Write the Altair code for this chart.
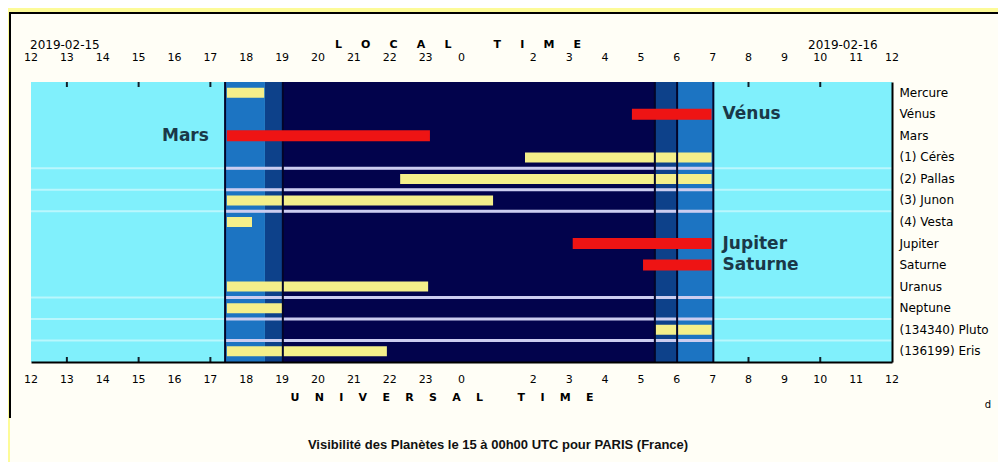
import altair as alt
import pandas as pd

# ---------------- data ----------------
rows = ["Mercure", "Vénus", "Mars", "(1) Cérès", "(2) Pallas", "(3) Junon", "(4) Vesta",
        "Jupiter", "Saturne", "Uranus", "Neptune", "(134340) Pluto", "(136199) Eris"]
# visibility windows in UT hours (12 = noon of the 15th, 36 = noon of the 16th)
vis_start = [17.46, 28.75, 17.46, 25.77, 22.29, 17.46, 17.46, 27.10, 29.06, 17.46, 17.46, 29.40, 17.46]
vis_end = [18.50, 30.97, 23.12, 30.97, 30.97, 24.88, 18.16, 30.97, 30.97, 23.07, 19.02, 30.97, 21.92]
naked_eye = [False, True, True, False, False, False, False, True, True, False, False, False, False]

evening_labels = ["Mars"]
morning_labels = ["Vénus", "Jupiter", "Saturne"]

separator_rows = ["(2) Pallas", "(3) Junon", "(4) Vesta", "Neptune", "(134340) Pluto", "(136199) Eris"]

# sky: day span, twilight / night bands (UT hours)
day_span = [12, 36]
band_start = [17.41, 18.52, 19.02, 29.39, 30.01]
band_end = [18.52, 19.02, 29.39, 30.01, 31.02]
band_color = ["#1c74c2", "#0d418a", "#02034c", "#0d418a", "#1c74c2"]
boundaries = [17.41, 19.02, 29.39, 30.01, 31.02]
night_span = [17.41, 31.02]

hours = list(range(12, 37))
hour_labels = ["12", "13", "14", "15", "16", "17", "18", "19", "20", "21", "22", "23",
               "0", "", "2", "3", "4", "5", "6", "7", "8", "9", "10", "11", "12"]
tick_hours = [13, 15, 17, 32, 34]

date_left = "2019-02-15"
date_right = "2019-02-16"
top_title = "LOCAL TIME"
bottom_title = "UNIVERSAL TIME"
main_title = "Visibilité des Planètes le 15 à 00h00 UTC pour PARIS (France)"

# ---------------- styling ----------------
W, H = 861, 280
CYAN = "#80f0fc"
FRAME = "#fdfb98"
PANEL = "#fffef6"
RED = "#ee1414"
YELLOW = "#f4ef8a"
FONT = "DejaVu Sans"


def spaced(s, gap=4):
    g = "\u00a0" * gap
    words = s.split(" ")
    return (g * 2 + "\u00a0").join(g.join(list(w)) for w in words)


x_scale = alt.Scale(domain=[12, 36], nice=False, zero=False)
y_scale = alt.Scale(domain=rows, paddingInner=0, paddingOuter=0)
x_axis = alt.Axis(labels=False, ticks=False, grid=False, title=None,
                  domainColor="black", domainWidth=2, zindex=1)
y_axis = alt.Axis(orient="right", title=None, ticks=False, grid=False,
                  labelFontSize=12, labelColor="black", labelPadding=7, labelFont=FONT,
                  domainColor="black", domainWidth=2, zindex=1)

bars_df = pd.DataFrame({
    "row": rows,
    "start": vis_start,
    "end": vis_end,
    "naked": naked_eye,
})
yellow_df = bars_df[~bars_df["naked"]]
red_df = bars_df[bars_df["naked"]]
day_df = pd.DataFrame({"start": [day_span[0]], "end": [day_span[1]]})
bands_df = pd.DataFrame({"start": band_start, "end": band_end, "color": band_color})
sep_df = pd.DataFrame({"row": separator_rows, "x0": night_span[0], "x1": night_span[1]})
bound_df = pd.DataFrame({"h": boundaries})
hours_df = pd.DataFrame({"h": hours, "label": hour_labels})
ticks_df = pd.DataFrame({"h": tick_hours})
eve_df = bars_df[bars_df["row"].isin(evening_labels)]
morn_df = bars_df[bars_df["row"].isin(morning_labels)]
one = pd.DataFrame({"k": [0]})

X = lambda f: alt.X(f, type="quantitative", scale=x_scale, axis=x_axis)
Y = lambda: alt.Y("row:N", scale=y_scale, axis=y_axis)

# panel background and border
panel = alt.Chart(one).mark_rect(color=PANEL).encode(
    x=alt.value(-21), x2=alt.value(975), y=alt.value(-69), y2=alt.value(390))
border_left = alt.Chart(one).mark_rule(color="black", strokeWidth=2).encode(
    x=alt.value(-21), y=alt.value(-69), y2=alt.value(336))
border_top = alt.Chart(one).mark_rule(color="black", strokeWidth=2).encode(
    x=alt.value(-22), x2=alt.value(975), y=alt.value(-69))

day = alt.Chart(day_df).mark_rect(color=CYAN).encode(x=X("start"), x2="end")

bands = alt.Chart(bands_df).mark_rect().encode(
    x=X("start"), x2="end", color=alt.Color("color:N", scale=None))

sep_full = alt.Chart(pd.DataFrame({"row": separator_rows})).mark_rule(
    color="white", opacity=0.45, strokeWidth=2).encode(
    y=alt.Y("row:N", scale=y_scale, axis=y_axis, bandPosition=0))
sep_night = alt.Chart(sep_df).mark_rule(color="#cccdf0", strokeWidth=3).encode(
    x=X("x0"), x2="x1", y=alt.Y("row:N", scale=y_scale, axis=y_axis, bandPosition=0))

yellow_bars = alt.Chart(yellow_df).mark_bar(size=10, color=YELLOW).encode(
    x=X("start"), x2="end", y=Y())

bounds = alt.Chart(bound_df).mark_rule(color="#03052a", strokeWidth=2).encode(x=X("h"))

red_bars = alt.Chart(red_df).mark_bar(size=11, color=RED).encode(
    x=X("start"), x2="end", y=Y())

lab_style = dict(font=FONT, fontSize=17, fontWeight="bold", color="#1a3848", baseline="middle")
eve = alt.Chart(eve_df).mark_text(align="right", dx=-18, **lab_style).encode(
    x=X("start"), y=Y(), text="row:N")
morn = alt.Chart(morn_df).mark_text(align="left", dx=11, **lab_style).encode(
    x=X("end"), y=Y(), text="row:N")

hr_style = dict(font=FONT, fontSize=11, color="black", baseline="middle", align="center")
top_hours = alt.Chart(hours_df).mark_text(**hr_style).encode(
    x=X("h"), y=alt.value(-24), text="label:N")
bot_hours = alt.Chart(hours_df).mark_text(**hr_style).encode(
    x=X("h"), y=alt.value(298), text="label:N")

ticks_top = alt.Chart(ticks_df).mark_rule(color="#10202a", strokeWidth=2).encode(
    x=X("h"), y=alt.value(0), y2=alt.value(5))
ticks_bot = alt.Chart(ticks_df).mark_rule(color="#10202a", strokeWidth=2).encode(
    x=X("h"), y=alt.value(H - 5), y2=alt.value(H))

txt = dict(font=FONT, color="black", baseline="middle")
t_top = alt.Chart(one).mark_text(fontSize=11, fontWeight="bold", align="center", **txt).encode(
    x=alt.value(427), y=alt.value(-37), text=alt.value(spaced(top_title, 5)))
t_bot = alt.Chart(one).mark_text(fontSize=11, fontWeight="bold", align="center", **txt).encode(
    x=alt.value(411), y=alt.value(316), text=alt.value(spaced(bottom_title, 4)))
d_left = alt.Chart(one).mark_text(fontSize=12, align="left", **txt).encode(
    x=alt.value(-1), y=alt.value(-37), text=alt.value(date_left))
d_right = alt.Chart(one).mark_text(fontSize=12, align="left", **txt).encode(
    x=alt.value(777), y=alt.value(-37), text=alt.value(date_right))
t_main = alt.Chart(one).mark_text(font="Liberation Sans", fontSize=13, fontWeight="bold",
                                  align="center", baseline="middle", color="#111111").encode(
    x=alt.value(467), y=alt.value(363), text=alt.value(main_title))
t_d = alt.Chart(one).mark_text(fontSize=10, align="center", **txt).encode(
    x=alt.value(957), y=alt.value(323), text=alt.value("d"))

chart = alt.layer(
    panel, border_left, border_top, day, bands, sep_full, sep_night, yellow_bars, bounds,
    red_bars, eve, morn, top_hours, bot_hours, ticks_top, ticks_bot,
    t_top, t_bot, d_left, d_right, t_main, t_d,
).properties(
    width=W, height=H,
    padding={"left": 23, "top": 74, "right": 106, "bottom": 100},
    autosize=alt.AutoSizeParams(type="none"),
    background=FRAME,
).configure_view(stroke=None)

chart.save("out.html", embed_options={"renderer": "svg", "actions": False})
